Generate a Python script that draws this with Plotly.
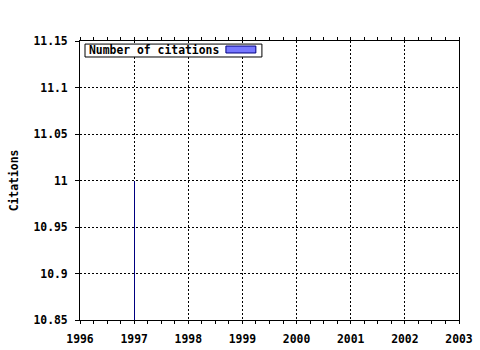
import plotly.graph_objects as go

years = [1997]
citations = [11]
series_name = "Number of citations"
y_title = "Citations"

FONT = dict(family="DejaVu Sans Mono", size=11.4, color="black", weight="bold")
PX_PER_YEAR = 379 / 7

fig = go.Figure()
fig.add_trace(go.Bar(
    x=years, y=citations, name=series_name,
    width=1 / PX_PER_YEAR, offset=-0.143 / PX_PER_YEAR,
    marker=dict(color="#000080", line=dict(width=0)),
    showlegend=False,
))

axis_common = dict(
    showline=True, linecolor="black", linewidth=1,
    ticks="outside", tickcolor="black",
    showgrid=True, gridcolor="black", griddash="2px,2px", gridwidth=1,
    zeroline=False, tickfont=FONT, automargin=False,
)

fig.update_xaxes(range=[1996, 2003], dtick=1, tick0=1996, ticklen=3,
                 mirror="allticks", ticklabelstandoff=5,
                 minor=dict(dtick=0.25, tick0=1996, ticks="outside", ticklen=3,
                            tickcolor="black", showgrid=False),
                 **axis_common)
fig.update_yaxes(range=[10.85, 11.15], dtick=0.05, tick0=10.85, ticklen=4,
                 mirror=True, ticklabelstandoff=5,
                 title=dict(text=y_title, font=FONT, standoff=12),
                 **axis_common)

# legend box
fig.add_shape(type="rect", xref="paper", yref="paper",
              x0=0.0132, x1=0.480, y0=0.9427, y1=0.989,
              line=dict(color="black", width=1), fillcolor="white", layer="above")
fig.add_shape(type="rect", xref="paper", yref="paper",
              x0=0.385, x1=0.464, y0=0.957, y1=0.982,
              line=dict(color="#000080", width=1), fillcolor="#7777ff", layer="above")
fig.add_annotation(text=series_name, xref="paper", yref="paper",
                   x=0.0185, y=0.966, xanchor="left", yanchor="middle",
                   showarrow=False, font=FONT)

fig.update_layout(
    width=480, height=350,
    margin=dict(l=80, r=21, t=41, b=30),
    paper_bgcolor="white", plot_bgcolor="white",
    font=FONT, bargap=0,
)

fig.write_html("out.html")
